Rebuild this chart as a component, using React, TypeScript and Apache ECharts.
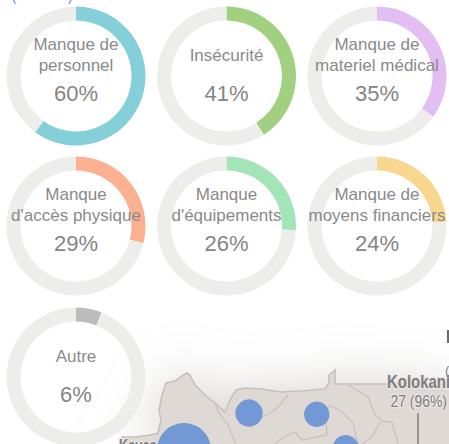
import React, { useEffect, useRef } from "react";
import * as echarts from "echarts";

const labels = [
  "Manque de\npersonnel",
  "Insécurité",
  "Manque de\nmateriel médical",
  "Manque\nd'accès physique",
  "Manque\nd'équipements",
  "Manque de\nmoyens financiers",
  "Autre",
];
const values = [60, 41, 35, 29, 26, 24, 6];
const colors = ["#85d0d8", "#a0d080", "#e3bef3", "#fbb092", "#a3e5b6", "#f8d88e", "#bcbcbc"];
const TRACK = "#ededeb";
const colX = [76, 226.5, 377];
const rowY = [76, 226, 377];

const mapOutline = [
  [120, 444], [122, 437], [135, 437], [150, 435], [158, 433], [161, 420], [159, 410], [162, 395], [166, 383],
  [175, 381], [182, 376], [187, 373], [190, 375], [195, 385], [205, 395], [215, 403], [225, 412], [231, 398],
  [236, 390], [245, 388], [262, 389], [280, 392], [300, 391], [325, 389], [329, 383], [329, 375], [335, 370],
  [335, 384], [385, 384], [449, 384], [449, 444],
];
const mapLines = [
  [[216, 404], [218, 412], [228, 425], [236, 444]],
  [[288, 395], [278, 407], [270, 413], [262, 417]],
  [[348, 385], [368, 397], [375, 415], [382, 421], [392, 422], [398, 444]],
  [[380, 422], [372, 437], [362, 444]],
  [[330, 405], [342, 412], [353, 423], [358, 444]],
  [[330, 405], [325, 412], [327, 435], [302, 440], [295, 432], [282, 438], [275, 444]],
];
const bubbles = [
  [184, 450, 27],
  [249, 413, 13.7],
  [316.7, 414.3, 12.7],
  [345.7, 448, 13],
];
const mapFont = '"Liberation Sans", Arial, sans-serif';

export default function App() {
  const ref = useRef<HTMLDivElement>(null);
  useEffect(() => {
    const chart = echarts.init(ref.current!, undefined, { renderer: "svg" });
    const centers = values.map((_, i) => [colX[i % 3], rowY[Math.floor(i / 3)]]);
    const mapText = (text: string, x: number, y: number, weight: string, size: number, scaleX: number) => ({
      type: "text",
      silent: true,
      z: -2,
      x,
      y,
      scaleX,
      style: {
        text, x: 0, y: 0, align: "left", verticalAlign: "middle",
        font: `${weight} ${size}px ${mapFont}`,
        fill: "#7f7d7f", stroke: "#e9e7e3", lineWidth: 2.5,
      },
    });
    const graphic: any[] = [
      {
        type: "polygon",
        silent: true,
        z: -5,
        shape: { points: mapOutline },
        style: { fill: "#ded9d4", shadowBlur: 50, shadowColor: "rgba(196,192,186,0.7)" },
      },
      {
        type: "polyline",
        silent: true,
        z: -4,
        shape: { points: mapOutline.slice(0, -1) },
        style: { fill: "none", stroke: "#c6c2ba", lineWidth: 1.6 },
      },
      ...mapLines.map((points) => ({
        type: "polyline",
        silent: true,
        z: -4,
        shape: { points },
        style: { fill: "none", stroke: "#c8c3bc", lineWidth: 1.3 },
      })),
      ...bubbles.map(([cx, cy, r]) => ({
        type: "circle",
        silent: true,
        z: -3,
        shape: { cx, cy, r },
        style: { fill: "#7299d6" },
      })),
      {
        type: "line",
        silent: true,
        z: -3,
        shape: { x1: 418, y1: 413, x2: 418, y2: 444 },
        style: { stroke: "#7f7f7f", lineWidth: 1.5 },
      },
      { type: "rect", silent: true, z: -3, shape: { x: 447, y: 330, width: 2, height: 13 }, style: { fill: "#6a686a" } },
      mapText("Kolokani", 387, 382.5, "bold", 18, 0.83),
      mapText("27 (96%)", 390.5, 401, "normal", 17, 0.82),
      mapText("Kayes", 119, 445, "bold", 16, 0.8),
      { type: "text", silent: true, z: -2, style: { text: "(", x: 445, y: 370, align: "left", verticalAlign: "middle", font: `13px ${mapFont}`, fill: "#7f7d7f" } },
      { type: "text", silent: true, z: 10, style: { text: "(", x: 12, y: -4, align: "left", verticalAlign: "middle", font: `13px ${mapFont}`, fill: "#5b83c9" } },
      { type: "text", silent: true, z: 10, style: { text: ")", x: 68, y: -4, align: "left", verticalAlign: "middle", font: `13px ${mapFont}`, fill: "#5b83c9" } },
      ...labels.flatMap((label, i) => [
        {
          type: "text",
          silent: true,
          z: 10,
          style: {
            text: label, x: centers[i][0], y: centers[i][1] - 21, align: "center", verticalAlign: "middle",
            font: '17px "Liberation Sans", Arial, sans-serif', lineHeight: 20.5, fill: "#8a8a8a",
          },
        },
        {
          type: "text",
          silent: true,
          z: 10,
          style: {
            text: `${values[i]}%`, x: centers[i][0], y: centers[i][1] + 17, align: "center", verticalAlign: "middle",
            font: '22px "Liberation Sans", Arial, sans-serif', fill: "#858585",
          },
        },
      ]),
    ];
    chart.setOption({
      animation: false,
      graphic,
      series: values.map((v, i) => ({
        type: "pie",
        silent: true,
        center: centers[i],
        radius: [55.5, 69.5],
        startAngle: 90,
        clockwise: true,
        label: { show: false },
        labelLine: { show: false },
        data: [
          { value: v, name: labels[i], itemStyle: { color: colors[i] } },
          { value: 100 - v, name: "", itemStyle: { color: TRACK } },
        ],
      })),
    });
    return () => chart.dispose();
  }, []);
  return <div ref={ref} style={{ position: "fixed", left: 0, top: 0, width: 449, height: 444, background: "#fff" }} />;
}
